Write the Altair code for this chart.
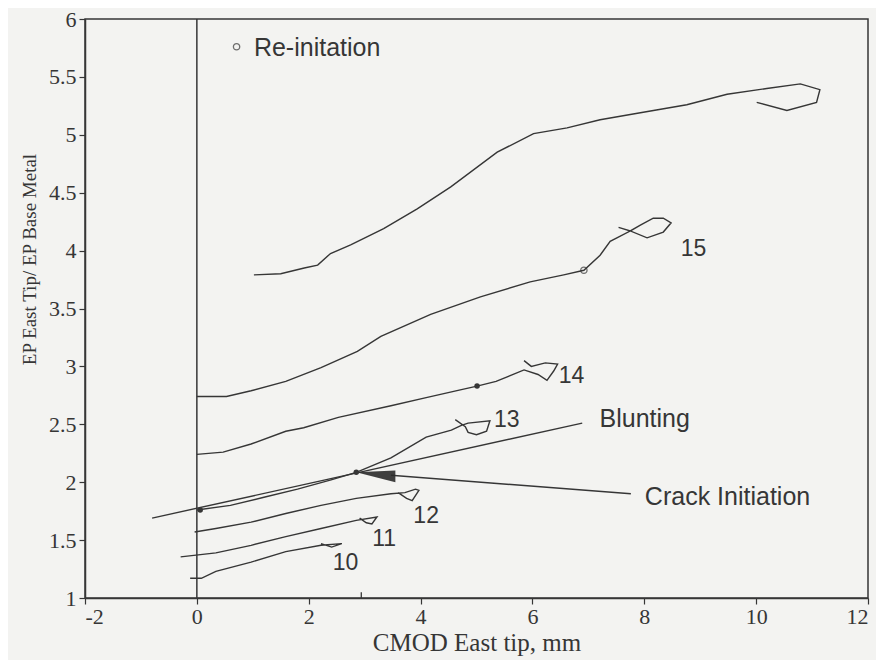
import altair as alt
import pandas as pd

# ---- curve data (CMOD east tip, EP ratio) ----
c16_x = [1.02, 1.50, 1.92, 2.16, 2.39, 2.75, 3.34, 3.94, 4.54, 5.37, 6.02, 6.62, 7.21, 7.93, 8.76, 9.48, 10.19, 10.79, 11.14, 11.08, 10.55, 10.01]
c16_y = [3.79, 3.80, 3.85, 3.875, 3.975, 4.05, 4.19, 4.36, 4.55, 4.85, 5.01, 5.06, 5.13, 5.19, 5.26, 5.35, 5.40, 5.44, 5.39, 5.28, 5.21, 5.28]

c15_x = [0.0, 0.53, 0.97, 1.59, 2.22, 2.87, 3.29, 4.18, 5.07, 5.96, 6.56, 6.92, 7.21, 7.39, 7.75, 8.05, 8.34, 8.48, 8.34, 8.16, 7.93, 7.75, 7.54]
c15_y = [2.74, 2.74, 2.79, 2.87, 2.99, 3.13, 3.26, 3.45, 3.60, 3.73, 3.79, 3.83, 3.96, 4.08, 4.17, 4.11, 4.16, 4.24, 4.28, 4.28, 4.22, 4.17, 4.20]

c14_x = [0.0, 0.47, 0.97, 1.59, 1.91, 2.53, 3.47, 4.10, 4.73, 5.01, 5.35, 5.85, 6.10, 6.26, 6.38, 6.45, 6.23, 5.98, 5.85]
c14_y = [2.24, 2.26, 2.33, 2.44, 2.47, 2.56, 2.66, 2.73, 2.80, 2.83, 2.87, 2.97, 2.93, 2.88, 2.96, 3.02, 3.03, 3.00, 3.05]

c13_x = [0.0, 0.6, 1.2, 1.8, 2.4, 2.85, 3.47, 4.10, 4.55, 4.73, 4.85, 5.24, 5.18, 5.00, 4.85, 4.80, 4.62]
c13_y = [1.76, 1.80, 1.87, 1.94, 2.02, 2.085, 2.21, 2.39, 2.45, 2.49, 2.51, 2.53, 2.44, 2.41, 2.43, 2.48, 2.54]

c12_x = [-0.04, 0.34, 0.97, 1.59, 2.22, 2.85, 3.47, 3.72, 3.91, 3.97, 3.85, 3.75, 3.60]
c12_y = [1.57, 1.60, 1.655, 1.73, 1.80, 1.86, 1.90, 1.91, 1.94, 1.93, 1.84, 1.86, 1.91]

c11_x = [-0.29, 0.34, 0.97, 1.59, 2.22, 2.85, 3.22, 3.13, 3.03, 2.91]
c11_y = [1.355, 1.39, 1.455, 1.53, 1.60, 1.67, 1.70, 1.64, 1.65, 1.69]

c10_x = [-0.12, 0.08, 0.34, 0.97, 1.59, 2.22, 2.59, 2.41, 2.22]
c10_y = [1.17, 1.17, 1.23, 1.31, 1.40, 1.455, 1.47, 1.44, 1.47]

# straight reference lines
blunt_x = [-0.80, 6.89]
blunt_y = [1.69, 2.51]
crack_x = [3.47, 7.76]
crack_y = [2.06, 1.90]

# crack initiation fan (filled wedge)
wedge_x = [2.85, 3.55]
wedge_top = [2.085, 2.10]
wedge_bot = [2.085, 2.00]

# crack-initiation tick on the CMOD axis
init_tick_x = [2.94]
init_tick_y = [1.0]
init_tick_y2 = [1.05]

# markers
reinit_x = [6.92, 0.71]
reinit_y = [3.83, 5.76]
dot_x = [5.01, 2.85, 0.06]
dot_y = [2.83, 2.085, 1.76]

# curve labels
num_text = ["15", "14", "13", "12", "11", "10"]
num_x = [8.88, 6.70, 5.54, 4.10, 3.35, 2.66]
num_y = [4.01, 2.92, 2.54, 1.71, 1.51, 1.30]

note_text = ["Blunting", "Crack Initiation", "Re-initation"]
note_x = [7.20, 8.01, 1.02]
note_y = [2.55, 1.87, 5.75]

x_ticks = [-2, 0, 2, 4, 6, 8, 10, 12]
y_ticks = [1, 1.5, 2, 2.5, 3, 3.5, 4, 4.5, 5, 5.5, 6]

INK = "#363636"
SERIF = "Liberation Serif"
SANS = "Liberation Sans"

rows = []
for name, xs, ys in [("16", c16_x, c16_y), ("15", c15_x, c15_y), ("14", c14_x, c14_y),
                     ("13", c13_x, c13_y), ("12", c12_x, c12_y), ("11", c11_x, c11_y),
                     ("10", c10_x, c10_y), ("blunt", blunt_x, blunt_y), ("crack", crack_x, crack_y)]:
    for i, (a, b) in enumerate(zip(xs, ys)):
        rows.append({"curve": name, "x": a, "y": b, "i": i})
lines_df = pd.DataFrame(rows)

xscale = alt.Scale(domain=[-2, 12], nice=False, zero=False)
yscale = alt.Scale(domain=[1, 6], nice=False, zero=False)

xaxis = alt.Axis(values=x_ticks, labelExpr="'' + datum.value", title="CMOD East tip, mm",
                 grid=False, tickSize=6, labelPadding=2, labelFont=SERIF, labelFontSize=22,
                 labelColor=INK, titleFont=SERIF, titleFontSize=25, titleFontWeight="normal",
                 titleColor=INK, titlePadding=3, domainColor=INK, tickColor=INK,
                 domainWidth=1.5, tickWidth=1.2)
yaxis = alt.Axis(values=y_ticks, labelExpr="'' + datum.value", title="EP East Tip/ EP Base Metal",
                 grid=False, tickSize=6, labelPadding=3, labelFont=SERIF, labelFontSize=22,
                 labelColor=INK, titleFont=SERIF, titleFontSize=19, titleFontWeight="normal",
                 titleColor=INK, titlePadding=9, titleY=240, domainColor=INK, tickColor=INK,
                 domainWidth=1.5, tickWidth=1.2)

base_lines = alt.Chart(lines_df).mark_line(color=INK, strokeWidth=1.4).encode(
    x=alt.X("x:Q", scale=xscale, axis=xaxis),
    y=alt.Y("y:Q", scale=yscale, axis=yaxis),
    detail="curve:N",
    order="i:Q",
)

zero_rule = alt.Chart(pd.DataFrame({"x": [0]})).mark_rule(color=INK, strokeWidth=1.5).encode(
    x=alt.X("x:Q", scale=xscale)
)

init_tick = alt.Chart(pd.DataFrame({"x": init_tick_x, "y": init_tick_y, "y2": init_tick_y2})).mark_rule(
    color=INK, strokeWidth=1.3
).encode(x=alt.X("x:Q", scale=xscale), y=alt.Y("y:Q", scale=yscale), y2="y2:Q")

wedge = alt.Chart(pd.DataFrame({"x": wedge_x, "y": wedge_top, "y2": wedge_bot})).mark_area(
    color="#2a2a2a", opacity=0.9
).encode(x=alt.X("x:Q", scale=xscale), y=alt.Y("y:Q", scale=yscale), y2="y2:Q")

open_pts = alt.Chart(pd.DataFrame({"x": reinit_x, "y": reinit_y})).mark_point(
    shape="circle", filled=False, size=40, color=INK, strokeWidth=1.3
).encode(x=alt.X("x:Q", scale=xscale), y=alt.Y("y:Q", scale=yscale))

dots = alt.Chart(pd.DataFrame({"x": dot_x, "y": dot_y})).mark_point(
    shape="circle", filled=True, size=30, color=INK, opacity=1
).encode(x=alt.X("x:Q", scale=xscale), y=alt.Y("y:Q", scale=yscale))

nums = alt.Chart(pd.DataFrame({"t": num_text, "x": num_x, "y": num_y})).mark_text(
    font=SANS, fontSize=23, color=INK, align="center", baseline="middle"
).encode(x=alt.X("x:Q", scale=xscale), y=alt.Y("y:Q", scale=yscale), text="t:N")

notes = alt.Chart(pd.DataFrame({"t": note_text, "x": note_x, "y": note_y})).mark_text(
    font=SANS, fontSize=25, color=INK, align="left", baseline="middle"
).encode(x=alt.X("x:Q", scale=xscale), y=alt.Y("y:Q", scale=yscale), text="t:N")

chart = alt.layer(zero_rule, init_tick, base_lines, wedge, open_pts, dots, nums, notes).properties(
    width=783, height=579,
    autosize=alt.AutoSizeParams(type="none"),
    padding={"left": 77, "top": 11, "right": 8, "bottom": 62},
    background="#f3f3f1",
).configure_view(stroke=INK, strokeWidth=1.5)

chart.save("out.html", embed_options={"renderer": "svg", "actions": False})
